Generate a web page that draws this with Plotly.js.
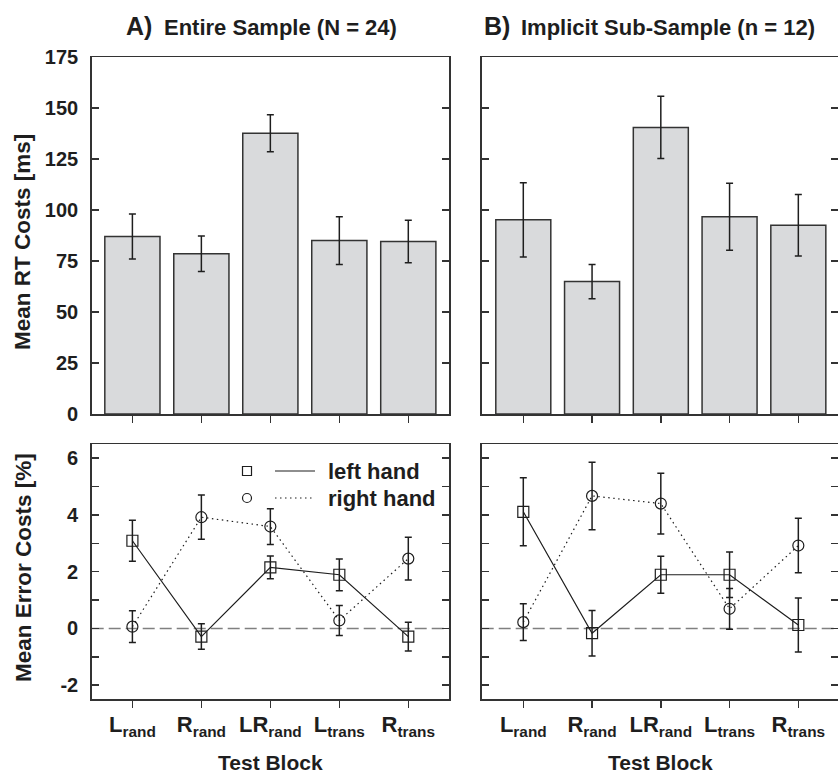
<!DOCTYPE html>
<html>
<head>
<meta charset="utf-8">
<script src="https://cdn.plot.ly/plotly-3.0.1.min.js"></script>
<style>html,body{margin:0;padding:0;background:#fff;}#chart{width:838px;height:773px;}</style>
</head>
<body>
<div id="chart"></div>
<script>
// ---- data ----
const categories = ['L<sub>rand</sub>', 'R<sub>rand</sub>', 'LR<sub>rand</sub>', 'L<sub>trans</sub>', 'R<sub>trans</sub>'];

const rtA = [87.0, 78.6, 137.6, 85.0, 84.6];
const rtAErr = [11.0, 8.7, 9.1, 11.7, 10.4];
const rtB = [95.2, 64.9, 140.5, 96.7, 92.5];
const rtBErr = [18.2, 8.4, 15.2, 16.4, 15.1];

const leftA = [3.09, -0.29, 2.15, 1.89, -0.29];
const leftAErr = [0.72, 0.45, 0.40, 0.56, 0.51];
const rightA = [0.06, 3.92, 3.59, 0.28, 2.46];
const rightAErr = [0.56, 0.78, 0.63, 0.53, 0.75];

const leftB = [4.11, -0.17, 1.89, 1.89, 0.12];
const leftBErr = [1.20, 0.80, 0.65, 0.80, 0.95];
const rightB = [0.22, 4.67, 4.40, 0.69, 2.92];
const rightBErr = [0.65, 1.19, 1.07, 0.72, 0.96];

const rtTicks = [0, 25, 50, 75, 100, 125, 150, 175];
const errTicks = [-2, -1, 0, 1, 2, 3, 4, 5, 6];
const errTickText = ['-2', '', '0', '', '2', '', '4', '', '6'];
const zeroLevel = 0;

const titleA = 'Entire Sample (N = 24)';
const titleB = 'Implicit Sub-Sample (n = 12)';
const legendLabels = ['left hand', 'right hand'];

// ---- layout helpers ----
const W = 838, H = 773;
const px = v => v / W;
const py = v => 1 - v / H;
const FONT = '"Liberation Sans", Arial, Helvetica, sans-serif';
const INK = '#1e1e1e';
const AX = '#333333';

const domA = [px(91.7), px(449)];
const domB = [px(481.7), 1];
const domTop = [py(414), py(57)];
const domBot = [py(699.3), py(444)];
const rangeA = [-0.59, 4.59];
const rangeB = [-0.605, 4.577];

function barTrace(y, err, xa, ya) {
  return {
    type: 'bar', x: categories, y: y, xaxis: xa, yaxis: ya, width: 0.8,
    marker: {color: '#d9dadc', line: {color: '#333', width: 1.5}},
    error_y: {type: 'data', array: err, visible: true, color: INK, thickness: 1.5, width: 3.5},
    showlegend: false, hoverinfo: 'skip'
  };
}
function lineTrace(y, err, xa, ya, sym, dash) {
  return {
    type: 'scatter', mode: 'lines+markers', x: categories, y: y, xaxis: xa, yaxis: ya,
    line: {color: INK, width: 1.2, dash: dash},
    marker: {symbol: sym, size: 11, color: INK, line: {color: INK, width: 1.2}},
    error_y: {type: 'data', array: err, visible: true, color: INK, thickness: 1.5, width: 3.5},
    showlegend: false, hoverinfo: 'skip', cliponaxis: false
  };
}

const data = [
  barTrace(rtA, rtAErr, 'x', 'y'),
  barTrace(rtB, rtBErr, 'x2', 'y2'),
  lineTrace(leftA, leftAErr, 'x3', 'y3', 'square-open', 'solid'),
  lineTrace(rightA, rightAErr, 'x3', 'y3', 'circle-open', '1.5px,3.5px'),
  lineTrace(leftB, leftBErr, 'x4', 'y4', 'square-open', 'solid'),
  lineTrace(rightB, rightBErr, 'x4', 'y4', 'circle-open', '1.5px,3.5px')
];

const yTickFont = {family: FONT, size: 20, color: INK, weight: 'bold'};
const xTickFont = {family: FONT, size: 22, color: INK, weight: 'bold'};

function xAxis(dom, range, anchor, labels) {
  return {
    domain: dom, range: range, anchor: anchor, type: 'category',
    showline: true, linecolor: AX, linewidth: 1.5, mirror: true,
    ticks: 'outside', ticklen: 7, tickwidth: 1.5, tickcolor: AX,
    showticklabels: labels, tickfont: xTickFont, ticklabelstandoff: -2,
    showgrid: false, zeroline: false, fixedrange: true
  };
}
function xTopAxis(over, range, anchor) {
  return {
    overlaying: over, side: 'top', anchor: anchor, range: range, type: 'linear',
    tickvals: categories.map((c, i) => i), showticklabels: false,
    ticks: 'inside', ticklen: 5, tickwidth: 1.5, tickcolor: AX,
    showline: false, showgrid: false, zeroline: false, fixedrange: true
  };
}
function yAxis(dom, range, anchor, vals, text, labels) {
  return {
    domain: dom, range: range, anchor: anchor,
    tickvals: vals, ticktext: text,
    showline: true, linecolor: AX, linewidth: 1.5, mirror: 'ticks',
    ticks: 'inside', ticklen: 7, tickwidth: 1.5, tickcolor: AX,
    showticklabels: labels, tickfont: yTickFont, ticklabelstandoff: 8,
    showgrid: false, zeroline: false, fixedrange: true
  };
}

const rtText = rtTicks.map(String);

const ann = (text, x, y, size, opts) => Object.assign({
  text: text, xref: 'paper', yref: 'paper', x: px(x), y: py(y), showarrow: false,
  font: {family: FONT, size: size, color: INK, weight: 'bold'}, xanchor: 'center', yanchor: 'middle'
}, opts || {});

const layout = {
  width: W, height: H,
  margin: {l: 0, r: 0, t: 0, b: 0},
  paper_bgcolor: '#ffffff', plot_bgcolor: '#ffffff',
  showlegend: false,
  xaxis: xAxis(domA, rangeA, 'y', false),
  yaxis: yAxis(domTop, [0, 175], 'x', rtTicks, rtText, true),
  xaxis2: xAxis(domB, rangeB, 'y2', false),
  yaxis2: yAxis(domTop, [0, 175], 'x2', rtTicks, rtText, false),
  xaxis3: xAxis(domA, rangeA, 'y3', true),
  yaxis3: yAxis(domBot, [-2.5, 6.5], 'x3', errTicks, errTickText, true),
  xaxis4: xAxis(domB, rangeB, 'y4', true),
  yaxis4: yAxis(domBot, [-2.5, 6.5], 'x4', errTicks, errTickText, false),
  xaxis5: xTopAxis('x', rangeA, 'y'),
  xaxis6: xTopAxis('x2', rangeB, 'y2'),
  xaxis7: xTopAxis('x3', rangeA, 'y3'),
  xaxis8: xTopAxis('x4', rangeB, 'y4'),
  shapes: [
    {type: 'line', xref: 'x3 domain', x0: 0, x1: 1, yref: 'y3', y0: zeroLevel, y1: zeroLevel,
     line: {color: '#808080', width: 1.5, dash: '12px,5px'}, layer: 'below'},
    {type: 'line', xref: 'x4 domain', x0: 0, x1: 1, yref: 'y4', y0: zeroLevel, y1: zeroLevel,
     line: {color: '#808080', width: 1.5, dash: '12px,5px'}, layer: 'below'},
    // legend symbols
    {type: 'rect', xref: 'paper', yref: 'paper', x0: px(242.5), x1: px(251.5), y0: py(475.5), y1: py(466.5),
     line: {color: INK, width: 1.2}, fillcolor: 'rgba(0,0,0,0)'},
    {type: 'line', xref: 'paper', yref: 'paper', x0: px(275), x1: px(315), y0: py(471), y1: py(471),
     line: {color: INK, width: 1.2}},
    {type: 'circle', xref: 'paper', yref: 'paper', x0: px(242.5), x1: px(251.5), y0: py(502.5), y1: py(493.5),
     line: {color: INK, width: 1.2}, fillcolor: 'rgba(0,0,0,0)'},
    {type: 'line', xref: 'paper', yref: 'paper', x0: px(275), x1: px(315), y0: py(498), y1: py(498),
     line: {color: INK, width: 1.2, dash: '1.5px,3.5px'}}
  ],
  annotations: [
    ann('A)', 124, 26, 25, {xanchor: 'left'}),
    ann(titleA, 162, 27, 22, {xanchor: 'left'}),
    ann('B)', 482, 26, 25, {xanchor: 'left'}),
    ann(titleB, 519, 27, 22, {xanchor: 'left'}),
    ann('Mean RT Costs [ms]', 23, 242, 22.5, {textangle: -90}),
    ann('Mean Error Costs [%]', 23, 568, 22.5, {textangle: -90}),
    ann('Test Block', 270, 762, 21),
    ann('Test Block', 660, 762, 21),
    ann(legendLabels[0], 326, 471, 22, {xanchor: 'left'}),
    ann(legendLabels[1], 326, 498, 22, {xanchor: 'left'})
  ]
};

Plotly.newPlot('chart', data, layout, {staticPlot: true, displayModeBar: false});
</script>
</body>
</html>
